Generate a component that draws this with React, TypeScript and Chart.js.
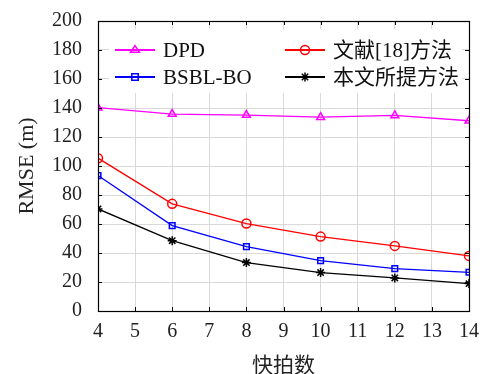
import React, { useEffect, useRef } from "react";
import { Chart, registerables } from "chart.js";

Chart.register(...registerables);

const snapshots = [4, 6, 8, 10, 12, 14];
const dpd = [140.2, 135.8, 135.1, 133.7, 134.9, 131.2];
const ref18 = [105.4, 73.9, 60.3, 51.3, 44.9, 38.0];
const bsbl = [93.4, 58.9, 44.4, 34.7, 29.2, 26.7];
const proposed = [70.4, 48.5, 33.4, 26.5, 22.8, 18.9];
const seriesNames = ["DPD", "文献[18]方法", "BSBL-BO", "本文所提方法"];
const xTitle = "快拍数";
const yTitle = "RMSE (m)";

const SERIF = "'Liberation Serif', 'DejaVu Serif', serif";
const CJK = "'Liberation Serif', 'Noto Sans CJK SC', serif";

const toPts = (ys: number[]) => ys.map((y, i) => ({ x: snapshots[i], y }));

function marker(ctx: any, style: string, x: number, y: number, r: number) {
  ctx.beginPath();
  if (style === "triangle") {
    const h = r * 1.5;
    ctx.moveTo(x, y - h * 0.66);
    ctx.lineTo(x + r, y + h * 0.34);
    ctx.lineTo(x - r, y + h * 0.34);
    ctx.closePath();
  } else if (style === "circle") {
    ctx.arc(x, y, r, 0, Math.PI * 2);
  } else if (style === "rect") {
    const s = r * 0.8;
    ctx.rect(x - s, y - s, s * 2, s * 2);
  } else {
    for (let k = 0; k < 4; k++) {
      const a = (k * Math.PI) / 4;
      ctx.moveTo(x + Math.cos(a) * r, y + Math.sin(a) * r);
      ctx.lineTo(x - Math.cos(a) * r, y - Math.sin(a) * r);
    }
  }
  ctx.stroke();
}

const frameTicks = {
  id: "frameTicks",
  afterDatasetsDraw(chart: any) {
    const { ctx, chartArea: a, scales } = chart;
    ctx.save();
    ctx.strokeStyle = "#000";
    ctx.lineWidth = 1;
    const L = 4;
    ctx.beginPath();
    for (let v = 0; v <= 200; v += 20) {
      const y = Math.round(scales.y.getPixelForValue(v)) + 0.5;
      ctx.moveTo(a.left, y);
      ctx.lineTo(a.left + L, y);
      ctx.moveTo(a.right, y);
      ctx.lineTo(a.right - L, y);
    }
    for (let v = 4; v <= 14; v += 1) {
      const x = Math.round(scales.x.getPixelForValue(v)) + 0.5;
      ctx.moveTo(x, a.top);
      ctx.lineTo(x, a.top + L);
      ctx.moveTo(x, a.bottom);
      ctx.lineTo(x, a.bottom - L);
    }
    ctx.stroke();
    ctx.lineWidth = 1.2;
    ctx.strokeRect(
      Math.round(a.left) + 0.5,
      Math.round(a.top) + 0.5,
      Math.round(a.right - a.left),
      Math.round(a.bottom - a.top)
    );
    ctx.restore();
  },
};

const legendInside = {
  id: "legendInside",
  afterDatasetsDraw(chart: any) {
    const { ctx, chartArea: a } = chart;
    ctx.save();
    ctx.fillStyle = "#fff";
    ctx.fillRect(a.left + 11, a.top + 8, a.right - a.left - 18, 64);
    const items = [
      { ds: 0, x: 115, y: 50 },
      { ds: 1, x: 285, y: 50 },
      { ds: 2, x: 115, y: 77 },
      { ds: 3, x: 285, y: 77 },
    ];
    items.forEach((it) => {
      const ds = chart.data.datasets[it.ds];
      ctx.strokeStyle = ds.borderColor;
      ctx.lineWidth = 2;
      ctx.beginPath();
      ctx.moveTo(it.x, it.y);
      ctx.lineTo(it.x + 40, it.y);
      ctx.stroke();
      ctx.lineWidth = 1.5;
      marker(ctx, ds.pointStyle, it.x + 20, it.y, ds.pointRadius);
      ctx.fillStyle = "#111";
      ctx.font = `21px ${CJK}`;
      ctx.textBaseline = "middle";
      ctx.textAlign = "left";
      ctx.fillText(ds.label, it.x + 48, it.y + 1);
    });
    ctx.restore();
  },
};

export default function App() {
  const ref = useRef<HTMLCanvasElement>(null);
  useEffect(() => {
    const mk = (
      label: string,
      data: number[],
      color: string,
      pointStyle: string,
      r: number
    ) => ({
      label,
      data: toPts(data),
      borderColor: color,
      backgroundColor: "rgba(0,0,0,0)",
      pointBorderColor: color,
      pointBackgroundColor: "rgba(0,0,0,0)",
      pointStyle,
      pointRadius: r,
      pointBorderWidth: 1.5,
      borderWidth: 1.3,
      tension: 0,
    });
    const chart = new Chart(ref.current as HTMLCanvasElement, {
      type: "line",
      data: {
        datasets: [
          mk(seriesNames[0], dpd, "#ff00ff", "triangle", 4.5),
          mk(seriesNames[1], ref18, "#ff0000", "circle", 4.5),
          mk(seriesNames[2], bsbl, "#0000ff", "rect", 4),
          mk(seriesNames[3], proposed, "#000000", "star", 4.5),
        ],
      },
      options: {
        animation: false,
        responsive: false,
        devicePixelRatio: 1,
        layout: { padding: { left: 0, top: 21, right: 13, bottom: 0 } },
        plugins: {
          legend: { display: false },
          tooltip: { enabled: false },
        },
        scales: {
          x: {
            type: "linear",
            min: 4,
            max: 14,
            afterFit: (s: any) => {
              s.height = 63;
            },
            ticks: {
              stepSize: 1,
              color: "#222",
              padding: 0,
              font: { family: SERIF, size: 20 },
            },
            grid: {
              color: "#d9d9d9",
              drawTicks: true,
              tickLength: 9,
              tickColor: "rgba(0,0,0,0)",
              lineWidth: 1,
            },
            border: { display: false },
            title: {
              display: true,
              text: xTitle,
              color: "#222",
              font: { family: CJK, size: 21 },
              padding: { top: 0, bottom: -5 },
            },
          },
          y: {
            min: 0,
            max: 200,
            afterFit: (s: any) => {
              s.width = 98;
            },
            ticks: {
              stepSize: 20,
              color: "#222",
              padding: 0,
              font: { family: SERIF, size: 20 },
            },
            grid: {
              color: "#d9d9d9",
              drawTicks: true,
              tickLength: 16,
              tickColor: "rgba(0,0,0,0)",
              lineWidth: 1,
            },
            border: { display: false },
            title: {
              display: true,
              text: yTitle,
              color: "#222",
              font: { family: SERIF, size: 22 },
              padding: { top: 14, bottom: 0 },
            },
          },
        },
      } as any,
      plugins: [frameTicks, legendInside],
    });
    return () => chart.destroy();
  }, []);
  return (
    <div style={{ position: "fixed", left: 0, top: 0, width: 482, height: 374, background: "#fff" }}>
      <canvas ref={ref} width={482} height={374} />
    </div>
  );
}
